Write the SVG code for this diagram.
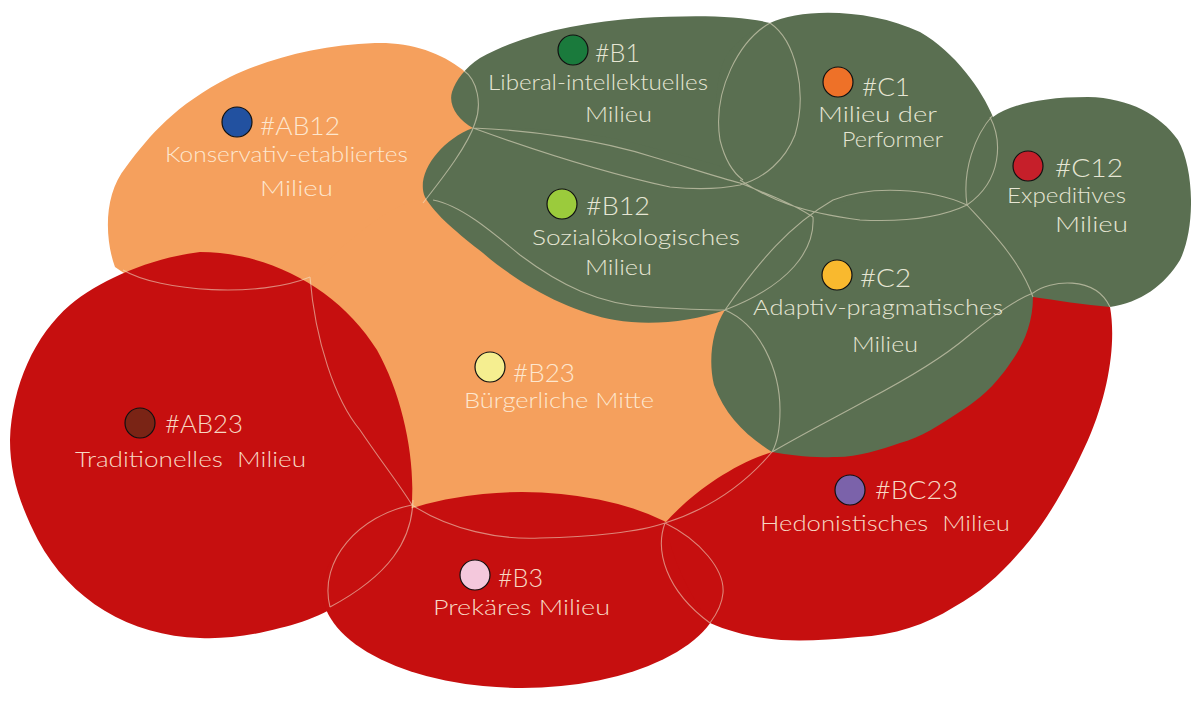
<svg xmlns="http://www.w3.org/2000/svg" width="1191" height="703" viewBox="0 0 1191 703">
<style>
.or{fill:#F5A05D}
.rd{fill:#C60F0F}
.gr{fill:#5A6F51}
.ln{fill:none;stroke:#F2E8D0;stroke-opacity:.55;stroke-width:1.1}
.dot{stroke:#111;stroke-width:1.2}
text{font-family:Lato,"Open Sans","DejaVu Sans",sans-serif;font-weight:300}
.h{font-size:25px}
.d{font-size:22px}
.tg{fill:#E6E6D4}
.to{fill:#FDE7CF}
.tr{fill:#F7D8C3}
</style>
<rect width="1191" height="703" fill="#fff"/>
<g id="AB12">
<path class="or" d="M115,267 C105,240 103,195 126,167 C150,135 175,105 230,77 C270,58 320,45 375,43 C410,42 440,52 463,70 C480,85 482,105 475,123 C468,150 445,180 425,205 C390,245 360,280 340,300 C260,320 160,300 115,267 Z"/>
<circle class="dot" cx="237" cy="122" r="15" fill="#2251A0"/>
<text class="h to" x="260" y="135" textLength="80" lengthAdjust="spacingAndGlyphs">#AB12</text>
<text class="d to" x="165" y="162" textLength="243" lengthAdjust="spacingAndGlyphs">Konservativ-etabliertes</text>
<text class="d to" x="260" y="196" textLength="73" lengthAdjust="spacingAndGlyphs">Milieu</text>
</g>
<g id="B23">
<path class="or" d="M300,290 C350,235 400,195 433,200 C470,205 500,240 540,275 C580,305 680,312 723,310 C770,320 790,390 772,452 C740,490 700,515 665,523 C600,550 470,555 400,525 C370,440 330,350 300,290 Z"/>
<circle class="dot" cx="490" cy="367" r="15" fill="#F5EE90"/>
<text class="h to" x="513" y="382" textLength="62" lengthAdjust="spacingAndGlyphs">#B23</text>
<text class="d to" x="464" y="408" textLength="190" lengthAdjust="spacingAndGlyphs">Bürgerliche Mitte</text>
</g>
<g id="AB23">
<path class="rd" d="M200,252 C270,252 340,290 377,350 C405,400 418,470 410,520 C400,570 340,615 280,628 C250,636 225,639 200,638 C130,636 70,600 38,540 C20,505 10,475 10,440 C12,385 35,335 70,305 C100,280 150,258 200,252 Z"/>
<circle class="dot" cx="140" cy="423" r="15" fill="#7A2415"/>
<text class="h tr" x="165" y="433" textLength="78" lengthAdjust="spacingAndGlyphs">#AB23</text>
<text class="d tr" x="75" y="467" textLength="231" lengthAdjust="spacingAndGlyphs" xml:space="preserve">Traditionelles  Milieu</text>
</g>
<g id="B3">
<ellipse class="rd" cx="522" cy="590" rx="200" ry="98"/>
<circle class="dot" cx="475" cy="575" r="15" fill="#F4C8DC"/>
<text class="h tr" x="498" y="587" textLength="45" lengthAdjust="spacingAndGlyphs">#B3</text>
<text class="d tr" x="433" y="615" textLength="177" lengthAdjust="spacingAndGlyphs">Prekäres Milieu</text>
</g>
<g id="BC23">
<path class="rd" d="M665,523 C690,495 730,465 772,452 C810,430 940,360 1033,293 C1060,275 1100,280 1110,307 C1116,340 1110,390 1088,440 C1070,480 1050,515 1030,540 C1005,570 985,590 954,607 C925,625 895,635 858,637 C830,640 805,641 781,640 C755,638 730,632 710,623 C690,595 672,560 665,523 Z"/>
<circle class="dot" cx="850" cy="490" r="15" fill="#7B62AA"/>
<text class="h tr" x="875" y="499" textLength="83" lengthAdjust="spacingAndGlyphs">#BC23</text>
<text class="d tr" x="760" y="531" textLength="250" lengthAdjust="spacingAndGlyphs" xml:space="preserve">Hedonistisches  Milieu</text>
</g>
<g id="B1">
<path class="gr" d="M473,128 C458,120 448,105 452,92 C456,80 465,68 480,58 C520,35 580,22 640,18 C690,15 740,15 770,23 C795,40 808,90 795,135 C785,160 765,178 740,185 C710,190 690,190 670,187 C620,180 560,158 520,143 C500,137 485,133 473,128 Z"/>
<circle class="dot" cx="573" cy="50" r="15" fill="#1A7A3C"/>
<text class="h tg" x="595" y="62" textLength="45" lengthAdjust="spacingAndGlyphs">#B1</text>
<text class="d tg" x="488" y="90" textLength="220" lengthAdjust="spacingAndGlyphs">Liberal-intellektuelles</text>
<text class="d tg" x="585" y="122" textLength="67" lengthAdjust="spacingAndGlyphs">Milieu</text>
</g>
<g id="B12">
<path class="gr" d="M473,128 C530,126 600,132 653,148 C700,160 790,180 830,225 C822,262 790,290 725,310 C690,322 650,326 615,320 C570,312 520,285 483,253 C460,235 435,215 425,197 C415,175 440,140 473,128 Z"/>
<circle class="dot" cx="562" cy="204" r="15" fill="#9BCB3C"/>
<text class="h tg" x="586" y="215" textLength="64" lengthAdjust="spacingAndGlyphs">#B12</text>
<text class="d tg" x="532" y="245" textLength="208" lengthAdjust="spacingAndGlyphs">Sozialökologisches</text>
<text class="d tg" x="585" y="275" textLength="67" lengthAdjust="spacingAndGlyphs">Milieu</text>
</g>
<g id="C1">
<path class="gr" d="M770,23 C800,8 870,8 920,32 C955,52 982,90 993,117 C1002,150 995,190 967,205 C930,220 880,223 840,218 C800,213 765,198 740,180 C715,150 710,90 725,58 C735,42 750,30 770,23 Z"/>
<circle class="dot" cx="838" cy="82" r="15" fill="#EE7128"/>
<text class="h tg" x="862" y="96" textLength="48" lengthAdjust="spacingAndGlyphs">#C1</text>
<text class="d tg" x="818" y="122" textLength="119" lengthAdjust="spacingAndGlyphs">Milieu der</text>
<text class="d tg" x="842" y="147" textLength="101" lengthAdjust="spacingAndGlyphs">Performer</text>
</g>
<g id="C12">
<path class="gr" d="M993,117 C1010,105 1040,97 1088,97 C1130,98 1160,115 1178,140 C1195,170 1195,230 1180,260 C1165,285 1140,303 1110,307 C1085,305 1055,300 1033,297 C1010,275 985,245 967,205 C963,180 970,140 993,117 Z"/>
<circle class="dot" cx="1028" cy="166" r="15" fill="#C61F2A"/>
<text class="h tg" x="1055" y="177" textLength="68" lengthAdjust="spacingAndGlyphs">#C12</text>
<text class="d tg" x="1007" y="203" textLength="119" lengthAdjust="spacingAndGlyphs">Expeditives</text>
<text class="d tg" x="1055" y="232" textLength="73" lengthAdjust="spacingAndGlyphs">Milieu</text>
</g>
<g id="C2">
<path class="gr" d="M725,310 C750,275 780,235 813,215 C850,192 920,185 967,205 C995,230 1025,262 1033,297 C1033,320 1025,340 1017,353 C1000,380 985,395 967,407 C940,425 920,438 900,443 C880,450 855,458 833,457 C810,458 790,455 772,452 C745,435 725,415 714,385 C708,360 712,330 725,310 Z"/>
<circle class="dot" cx="837" cy="275" r="15" fill="#F9B92E"/>
<text class="h tg" x="860" y="287" textLength="51" lengthAdjust="spacingAndGlyphs">#C2</text>
<text class="d tg" x="753" y="315" textLength="250" lengthAdjust="spacingAndGlyphs">Adaptiv-pragmatisches</text>
<text class="d tg" x="852" y="352" textLength="66" lengthAdjust="spacingAndGlyphs">Milieu</text>
</g>
<g id="outlines">
<path class="ln" d="M123,270 C160,292 260,298 310,277 M310,277 C315,340 335,400 360,430 C380,460 400,485 412,505 M413,500 C412,540 390,575 330,607 M412,505 C360,515 318,560 330,607 M412,505 C450,530 500,540 540,538 C590,537 640,532 665,523 C700,512 740,490 772,452 M665,523 C700,540 725,570 723,593 C722,605 716,615 710,623 M665,523 C655,550 665,590 710,623 M725,310 C760,325 780,370 780,410 C780,430 776,445 772,452 M772,452 C810,430 840,415 867,400 C905,380 940,360 967,337 C990,318 1015,300 1033,293 M1033,293 C1050,280 1095,275 1110,307 M813,217 C815,250 790,285 725,310 M725,310 C760,260 790,225 833,200 C870,185 930,188 967,205 C990,230 1020,260 1033,297 M740,180 C770,200 800,212 860,220 C900,222 940,218 967,205 M770,23 C740,40 712,90 720,140 C725,160 732,172 743,180 M770,23 C795,40 808,90 795,135 C785,160 765,178 740,185 M990,117 C1002,140 1003,180 967,205 M993,115 C975,135 962,170 967,205 M473,128 C520,145 600,172 670,187 C700,190 725,188 740,185 M473,128 C530,130 600,140 653,157 C690,168 720,178 740,183 C770,195 795,205 813,217 M463,70 C478,80 482,105 475,123 C468,145 445,175 423,203 M433,200 C460,205 490,230 520,255 C560,285 600,305 650,307 C680,309 705,310 725,310"/>
</g>
</svg>
